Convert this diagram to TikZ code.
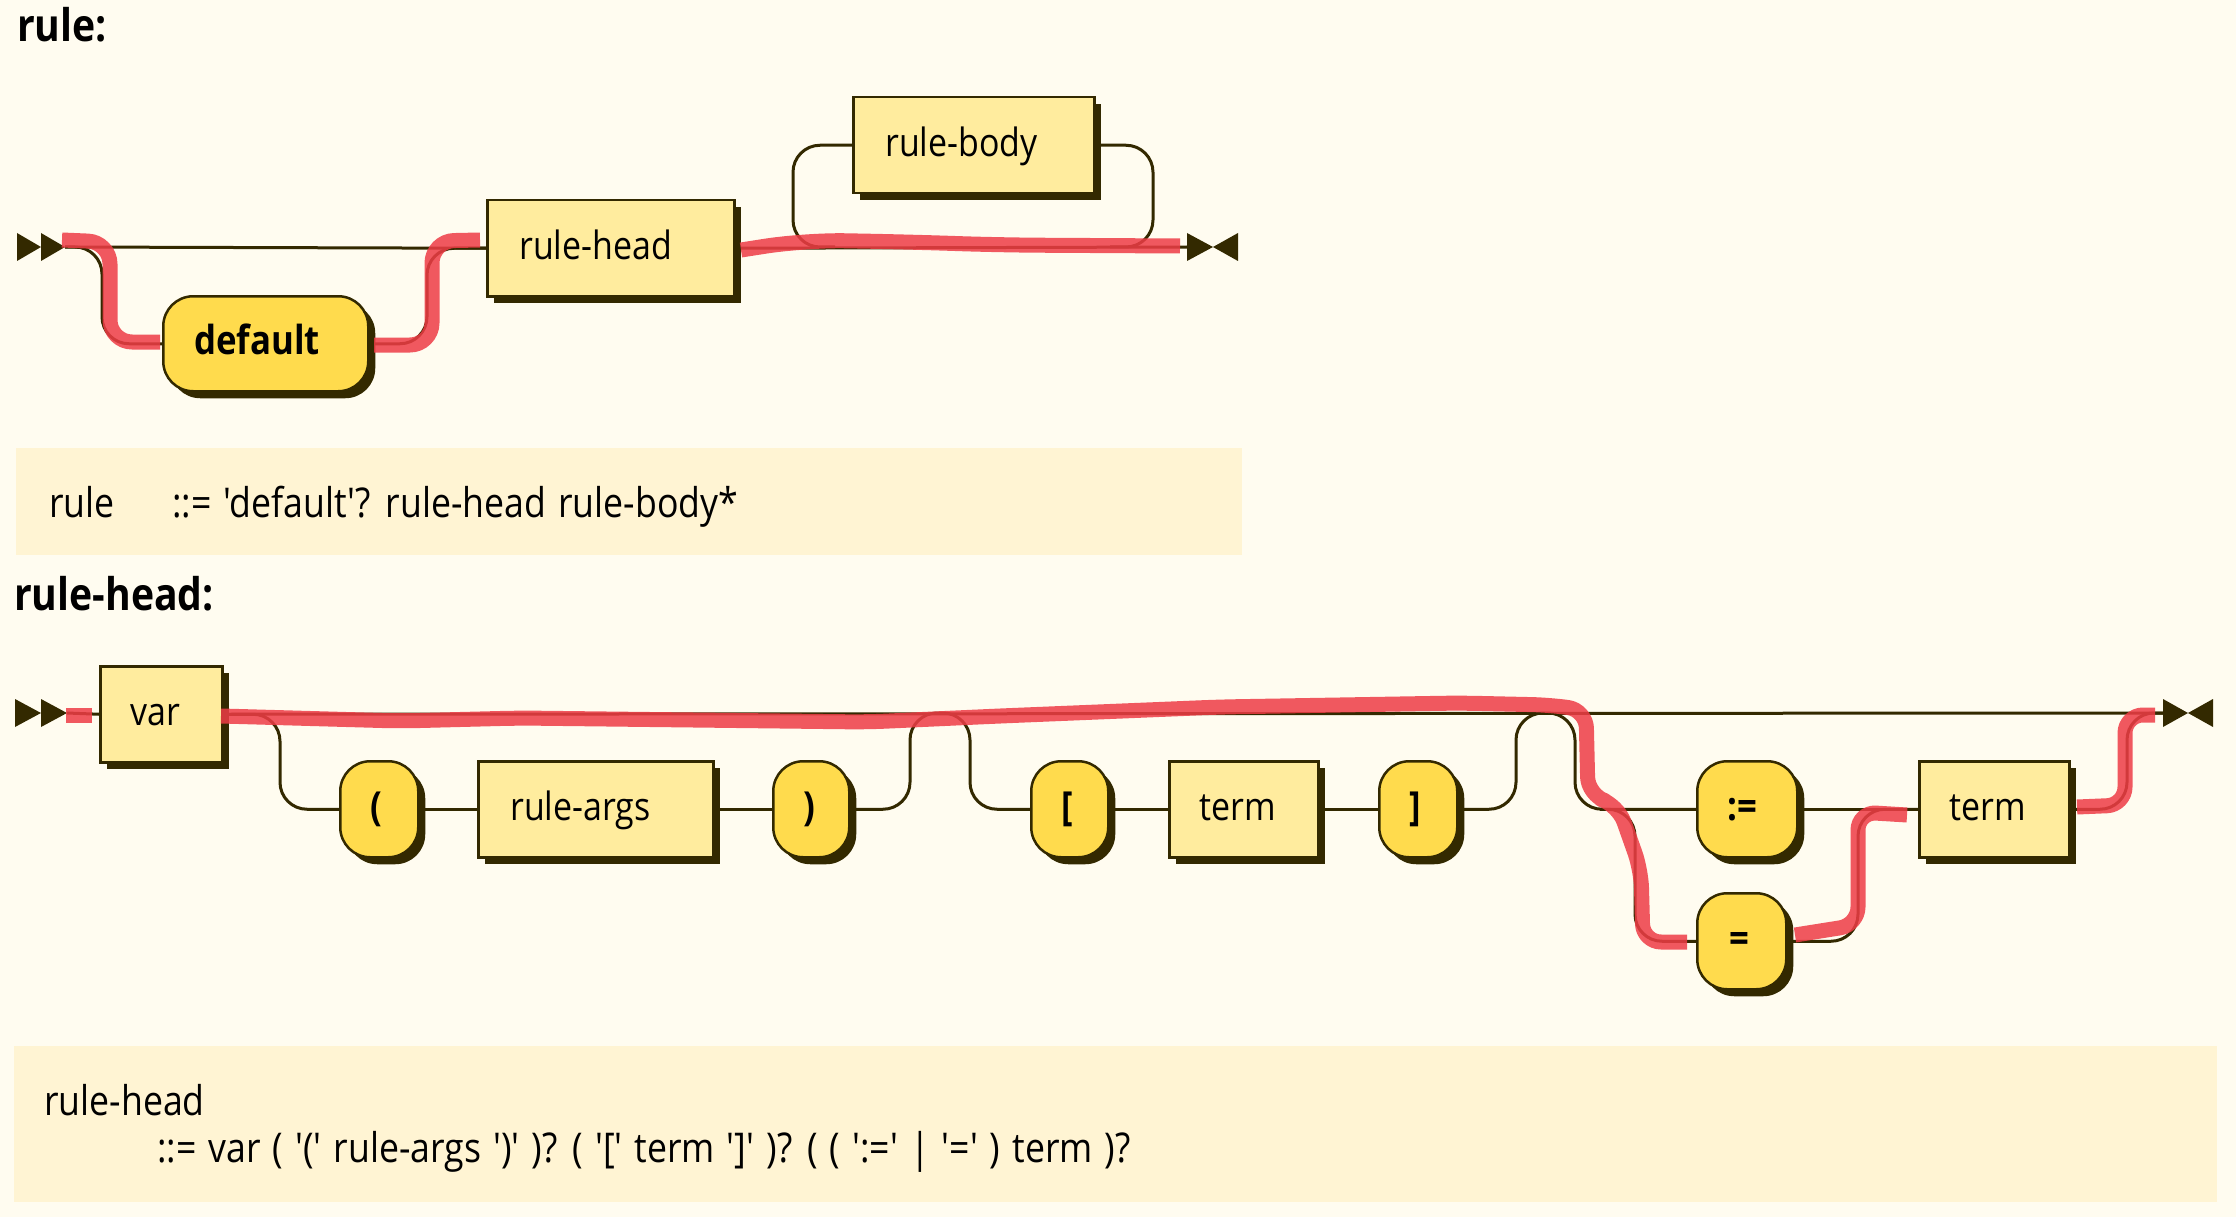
\documentclass[tikz,border=0pt]{standalone}
\usepackage{fontspec}
\setmainfont{Open Sans}[FakeStretch=0.87,Ligatures=TeXOff]
\usetikzlibrary{shadows}
\definecolor{bg}{HTML}{FFFCF0}
\definecolor{ntfill}{HTML}{FFEC9E}
\definecolor{tfill}{HTML}{FFDB4D}
\definecolor{ink}{HTML}{332900}
\definecolor{ebnf}{HTML}{FFF4D3}
\definecolor{hl}{RGB}{238,60,70}
\newcommand\myspecfont{\fontsize{41}{49}\selectfont\spaceskip 12pt plus 0pt minus 0pt\relax}
\begin{document}
\begin{tikzpicture}[x=1pt,y=-1pt,
  box/.style={draw=ink, line width=2.5pt, anchor=north west, inner sep=0pt,
    drop shadow={shadow xshift=7pt,shadow yshift=-7pt,fill=ink,opacity=1}},
  nt/.style={box, fill=ntfill},
  tm/.style={box, fill=tfill, rounded corners=30pt},
  lbl/.style={anchor=west, inner sep=0pt, text height=22pt, text depth=0pt,
    font=\fontsize{39}{47}\selectfont},
  tlbl/.style={lbl, font=\fontsize{40}{48}\selectfont\bfseries},
  wire/.style={draw=ink, line width=3pt, rounded corners=27pt},
  tipc/.style={fill=ink},
  hlt/.style={draw=hl, line width=15pt, opacity=0.85, line join=round, rounded corners=22pt},
  ttl/.style={anchor=base west, inner sep=0pt, font=\fontsize{45}{54}\selectfont\bfseries},
  spec/.style={anchor=base west, inner sep=0pt, font=\myspecfont},
  specbox/.style={fill=ebnf}
]
\useasboundingbox[fill=bg] (0,0) rectangle (2236,1217);

% ---------------- rule ----------------
\node[ttl] (t1) at (17,42) {rule:};
\coordinate (s1) at (65,247);
\coordinate (e1) at (1187,247);
\fill[tipc] (17,233) -- (41,247) -- (17,261) -- cycle;
\fill[tipc] (41,233) -- (65,247) -- (41,261) -- cycle;
\fill[tipc] (1187,233) -- (1213,247) -- (1187,261) -- cycle;
\fill[tipc] (1238,233) -- (1213,247) -- (1238,261) -- cycle;

\node[tm, minimum width=205pt, minimum height=95pt] (def) at (162,295) {};
\node[tlbl] at ([xshift=32pt]def.west) {default};
\node[nt, minimum width=247pt, minimum height=96pt] (rh) at (486,199) {};
\node[lbl] at ([xshift=33pt]rh.west) {rule-head};
\node[nt, minimum width=241pt, minimum height=96pt] (rb) at (852,96) {};
\node[lbl] at ([xshift=33pt]rb.west) {rule-body};
\coordinate (lp) at (835,247);
\coordinate (rp) at (1110,247);

\draw[wire] (s1) -- (rh.west);
\draw[wire] (s1) -| ([xshift=-60pt]def.west) -- (def.west);
\draw[wire] (def.east) -| ([xshift=-59pt]rh.west) -- (rh.west);
\draw[wire] (rh.east) -- (e1);
\draw[wire] (rb.west) -| (793,247) -- (lp);
\draw[wire] (rb.east) -| (1153,247) -- (rp);

\fill[specbox] (16,448) rectangle (1242,555);
\node[spec] (sp1a) at (49,517) {rule};
\node[spec] (sp1b) at (172,517) {::= 'default'? rule-head rule-body*};

% ---------------- rule-head ----------------
\node[ttl] (t2) at (14,610) {rule-head:};
\coordinate (s2) at (67,713);
\coordinate (e2) at (2163,713);
\fill[tipc] (15,699) -- (41,713) -- (15,727) -- cycle;
\fill[tipc] (41,699) -- (67,713) -- (41,727) -- cycle;
\fill[tipc] (2163,699) -- (2188,713) -- (2163,727) -- cycle;
\fill[tipc] (2213,699) -- (2188,713) -- (2213,727) -- cycle;

\node[nt, minimum width=122pt, minimum height=96pt] (var) at (99,665) {};
\node[lbl] at ([xshift=31pt]var.west) {var};
\node[tm, minimum width=78pt, minimum height=96pt] (lpar) at (339,760) {};
\node[tlbl] at ([xshift=31pt]lpar.west) {(};
\node[nt, minimum width=235pt, minimum height=96pt] (ra) at (477,760) {};
\node[lbl] at ([xshift=33pt]ra.west) {rule-args};
\node[tm, minimum width=76pt, minimum height=96pt] (rpar) at (772,760) {};
\node[tlbl] at ([xshift=31pt]rpar.west) {)};
\node[tm, minimum width=77pt, minimum height=96pt] (lbr) at (1030,760) {};
\node[tlbl] at ([xshift=31pt]lbr.west) {[};
\node[nt, minimum width=149pt, minimum height=96pt] (tA) at (1168,760) {};
\node[lbl] at ([xshift=31pt]tA.west) {term};
\node[tm, minimum width=78pt, minimum height=96pt] (rbr) at (1378,760) {};
\node[tlbl] at ([xshift=31pt]rbr.west) {]};
\node[tm, minimum width=100pt, minimum height=96pt] (asg) at (1696,760) {};
\node[tlbl] at ([xshift=31pt]asg.west) {:=};
\node[tm, minimum width=89pt, minimum height=96pt] (eq) at (1696,892) {};
\node[tlbl] at ([xshift=33pt]eq.west) {=};
\node[nt, minimum width=150pt, minimum height=96pt] (tB) at (1918,760) {};
\node[lbl] at ([xshift=31pt]tB.west) {term};

\draw[wire] (s2) -- (var.west);
\draw[wire] (var.east) -- (e2);
\draw[wire] (var.east) -| ([xshift=-59pt]lpar.west) -- (lpar.west);
\draw[wire] (lpar.east) -- (ra.west);
\draw[wire] (ra.east) -- (rpar.west);
\draw[wire] (rpar.east) -| (910,713) -| ([xshift=-60pt]lbr.west) -- (lbr.west);
\draw[wire] (lbr.east) -- (tA.west);
\draw[wire] (tA.east) -- (rbr.west);
\draw[wire] (rbr.east) -| (1516,713) -| ([xshift=-121pt]asg.west) -- (asg.west);
\draw[wire] ([xshift=-96pt]asg.west) -| ([xshift=-61pt]eq.west) -- (eq.west);
\draw[wire] (asg.east) -- (tB.west);
\draw[wire] (eq.east) -| ([xshift=-60pt]tB.west) -- (tB.west);
\draw[wire] (tB.east) -| ([xshift=-36pt]e2) -- (e2);

\fill[specbox] (14,1046) rectangle (2217,1202);
\node[spec] (sp2a) at (44,1115) {rule-head};
\node[spec] (sp2b) at (157,1162) {::= var ( '(' rule-args ')' )? ( '[' term ']' )? ( ( ':=' | '=' ) term )?};

% ---------------- highlight strokes ----------------
\draw[hlt] (62,240) -- (110,242) -- (110,342) -- (160,342);
\draw[hlt] (374,345) -- (432,345) -- (432,241) -- (480,240);
\draw[hlt, rounded corners=40pt] (741,250) -- (805,240) -- (910,242) -- (1000,245) -- (1180,246);
\draw[hlt, rounded corners=0pt] (66,715) -- (92,715);
\draw[hlt, rounded corners=18pt] (221,716) -- (400,721) -- (520,718) -- (867,722) -- (1000,716)
  -- (1220,707) -- (1460,703) -- (1550,705) -- (1586,710) -- (1588,795) -- (1618,805)
  -- (1641,870) -- (1643,942) -- (1687,942);
\draw[hlt, rounded corners=18pt] (1795,935) -- (1858,925) -- (1858,812) -- (1907,815);
\draw[hlt, rounded corners=18pt] (2077,807) -- (2125,805) -- (2125,715) -- (2155,715);
\end{tikzpicture}
\end{document}
